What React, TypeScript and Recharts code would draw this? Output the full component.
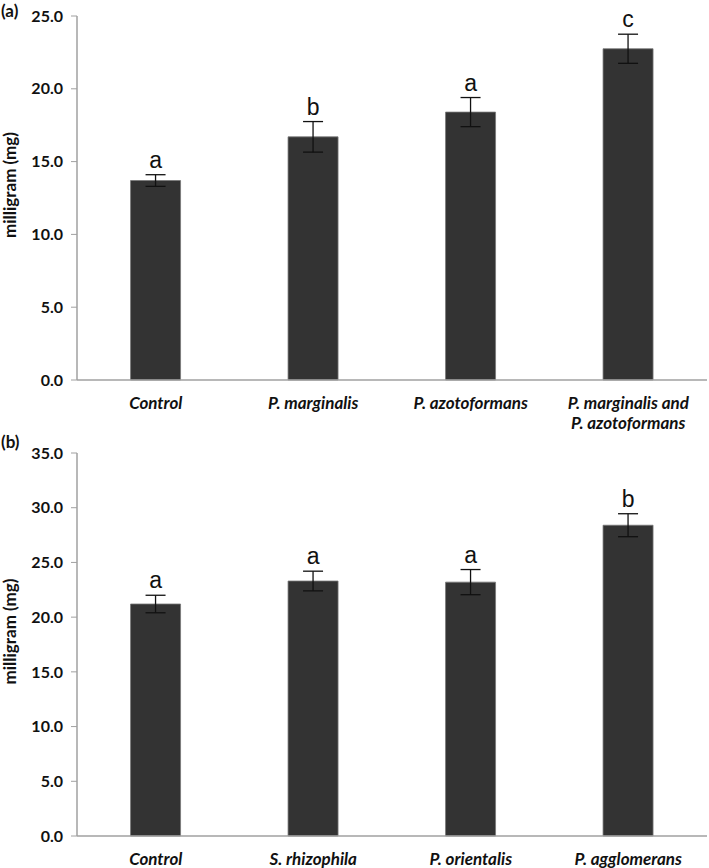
import React from 'react';
import { BarChart, Bar, XAxis, YAxis, ErrorBar, LabelList } from 'recharts';

// panel (a)
const catsA = ['Control', 'P. marginalis', 'P. azotoformans', 'P. marginalis and\nP. azotoformans'];
const valsA = [13.7, 16.7, 18.4, 22.75];
const errsA = [0.4, 1.05, 1.0, 1.0];
const lettersA = ['a', 'b', 'a', 'c'];
const ticksA = [0, 5, 10, 15, 20, 25];

// panel (b)
const catsB = ['Control', 'S. rhizophila', 'P. orientalis', 'P. agglomerans'];
const valsB = [21.2, 23.3, 23.2, 28.4];
const errsB = [0.8, 0.9, 1.15, 1.05];
const lettersB = ['a', 'a', 'a', 'b'];
const ticksB = [0, 5, 10, 15, 20, 25, 30, 35];

const FONT = 'Lato, "Open Sans", sans-serif';
const AXIS = '#a0a0a0';

const build = (cats: string[], vals: number[], errs: number[], letters: string[]) =>
  cats.map((name, i) => ({ name, value: vals[i], err: errs[i], letter: letters[i] }));

const XTick = (props: any) => {
  const { x, y, payload } = props;
  const lines = String(payload.value).split('\n');
  return (
    <text x={x} y={y} textAnchor="middle" fontFamily={FONT} fontSize={17} fontWeight={700} fontStyle="italic" fill="#111">
      {lines.map((l, i) => (
        <tspan key={i} x={x} dy={i === 0 ? '0.71em' : 20}>
          {l}
        </tspan>
      ))}
    </text>
  );
};

const YLabel = (props: any) => {
  const { viewBox } = props;
  const cx = viewBox.x - 8;
  const cy = viewBox.y + viewBox.height / 2 - 13;
  return (
    <text x={cx} y={cy} transform={`rotate(-90 ${cx} ${cy})`} textAnchor="middle" dominantBaseline="central"
      fontFamily={FONT} fontSize={17} fontWeight={700} fill="#111">
      milligram (mg)
    </text>
  );
};

const makeLetter = (rows: any[]) => (props: any) => {
  const { x, y, width, height, index } = props;
  const row = rows[index];
  const errPx = (row.err * height) / row.value;
  return (
    <text x={x + width / 2} y={y - errPx - 7} textAnchor="middle" fontFamily='"Liberation Sans", Arial, sans-serif'
      fontSize={23} fill="#111">
      {row.letter}
    </text>
  );
};

const Panel = ({ rows, ticks, height, top, bottom, xh }: any) => (
  <BarChart width={709} height={height} data={rows} margin={{ top, right: 2, left: 17, bottom }} barCategoryGap="34%">
    <XAxis dataKey="name" tick={<XTick />} tickLine={false} tickSize={0} tickMargin={17} height={xh}
      axisLine={{ stroke: AXIS, strokeWidth: 1.5 }} interval={0} />
    <YAxis width={60} domain={[ticks[0], ticks[ticks.length - 1]]} ticks={ticks} tickFormatter={(v: number) => v.toFixed(1)}
      tick={{ fontFamily: FONT, fontSize: 16, fontWeight: 700, fill: '#111' }} tickSize={6} tickMargin={8}
      tickLine={{ stroke: AXIS }} axisLine={{ stroke: AXIS, strokeWidth: 1.5 }} label={<YLabel />} />
    <Bar dataKey="value" fill="#333333" stroke="#777" strokeWidth={0.8} isAnimationActive={false}>
      <ErrorBar dataKey="err" width={10} stroke="#111" strokeWidth={1.3} />
      <LabelList dataKey="letter" content={makeLetter(rows)} />
    </Bar>
  </BarChart>
);

export default function App() {
  const rowsA = build(catsA, valsA, errsA, lettersA);
  const rowsB = build(catsB, valsB, errsB, lettersB);
  const tag = { position: 'absolute' as const, left: 1, fontFamily: FONT, fontSize: 17, fontWeight: 700, color: '#111', lineHeight: '20px' };
  return (
    <div style={{ position: 'absolute', left: 0, top: 0, width: 709, height: 868, background: '#fff' }}>
      <div style={{ position: 'absolute', left: 0, top: 0 }}>
        <Panel rows={rowsA} ticks={ticksA} height={440} top={16} bottom={10} xh={50} />
      </div>
      <div style={{ position: 'absolute', left: 0, top: 430 }}>
        <Panel rows={rowsB} ticks={ticksB} height={438} top={23} bottom={2} xh={30} />
      </div>
      <div style={{ ...tag, top: 1 }}>(a)</div>
      <div style={{ ...tag, top: 432 }}>(b)</div>
    </div>
  );
}
